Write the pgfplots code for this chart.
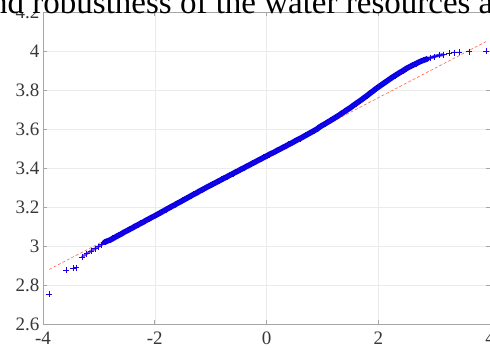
\documentclass[border=0pt]{standalone}
\usepackage{pgfplots}
\usepackage{pgfplotstable}
\pgfplotsset{compat=1.18}
\usepackage{fontspec}
\setmainfont{Liberation Serif}
\pgfplotstableread{
x y
-3.89 2.754
-3.59 2.877
-3.46 2.887
-3.41 2.889
-3.30 2.944
-3.22 2.961
-3.14 2.975
-3.07 2.986
-3.01 2.997
-2.95 3.007
-2.90 3.019
-2.85 3.026
-2.80 3.031
-2.75 3.039
-2.70 3.047
-2.65 3.055
-2.60 3.062
-2.55 3.071
-2.50 3.078
-2.45 3.086
-2.40 3.093
-2.35 3.102
-2.30 3.109
-2.25 3.117
-2.20 3.124
-2.15 3.133
-2.10 3.140
-2.05 3.148
-2.00 3.155
-1.95 3.163
-1.90 3.171
-1.85 3.179
-1.80 3.187
-1.75 3.195
-1.70 3.203
-1.65 3.210
-1.60 3.219
-1.55 3.226
-1.50 3.234
-1.45 3.242
-1.40 3.250
-1.35 3.258
-1.30 3.266
-1.25 3.273
-1.20 3.282
-1.15 3.289
-1.10 3.297
-1.05 3.305
-1.00 3.312
-0.95 3.320
-0.90 3.327
-0.85 3.335
-0.80 3.342
-0.75 3.350
-0.70 3.357
-0.65 3.365
-0.60 3.372
-0.55 3.380
-0.50 3.387
-0.45 3.395
-0.40 3.402
-0.35 3.410
-0.30 3.417
-0.25 3.425
-0.20 3.432
-0.15 3.440
-0.10 3.447
-0.05 3.455
0.00 3.462
0.05 3.470
0.10 3.477
0.15 3.484
0.20 3.492
0.25 3.499
0.30 3.507
0.35 3.514
0.40 3.522
0.45 3.529
0.50 3.537
0.55 3.545
0.60 3.552
0.65 3.560
0.70 3.568
0.75 3.576
0.80 3.584
0.85 3.592
0.90 3.600
0.95 3.611
1.00 3.620
1.05 3.628
1.10 3.637
1.15 3.645
1.20 3.654
1.25 3.663
1.30 3.672
1.35 3.682
1.40 3.691
1.45 3.701
1.50 3.710
1.55 3.721
1.60 3.731
1.65 3.741
1.70 3.751
1.75 3.762
1.80 3.772
1.85 3.784
1.90 3.794
1.95 3.806
2.00 3.816
2.05 3.826
2.10 3.836
2.15 3.846
2.20 3.856
2.25 3.866
2.30 3.875
2.35 3.884
2.40 3.893
2.45 3.901
2.50 3.911
2.56 3.920
2.62 3.929
2.68 3.937
2.74 3.946
2.80 3.953
2.87 3.960
2.94 3.967
3.01 3.973
3.09 3.980
3.17 3.982
3.27 3.990
3.36 3.993
3.45 3.994
3.63 3.997
3.93 4.000
}\qqdata
\begin{document}
\begin{tikzpicture}
\clip (0pt,0pt) rectangle (490pt,349pt);
\fill[white] (0pt,0pt) rectangle (490pt,349pt);
\begin{axis}[
  at={(43pt,25pt)}, anchor=south west,
  scale only axis, width=447pt, height=311.7pt,
  xmin=-4, xmax=4, ymin=2.6, ymax=4.2,
  xtick={-4,-2,0,2,4}, xticklabels={-4,-2,0,2,4},
  ytick={2.6,2.8,3,3.2,3.4,3.6,3.8,4,4.2},
  yticklabels={2.6,2.8,3,3.2,3.4,3.6,3.8,4,4.2},
  grid=major, major grid style={black!8, line width=0.5pt},
  axis line style={black!35, line width=0.7pt},
  tick style={black!35, line width=0.6pt}, tick align=inside,
  major tick length=4pt,
  ticklabel style={font=\fontsize{19}{19}\selectfont, text=black!78},
  xticklabel style={yshift=-4pt},
  clip=true,
]
\addplot[red!70!orange, line width=0.6pt, dash pattern=on 3pt off 2pt, opacity=0.7] coordinates {(-3.89,2.880) (3.93,4.050)};
\addplot[blue!55!violet!70, line width=2.6pt, restrict x to domain=-3.32:-2.85, line cap=round] table[x=x,y=y] {\qqdata};
\addplot[blue!80, line width=3pt, restrict x to domain=2.85:3.2, line cap=round] table[x=x,y=y] {\qqdata};
\addplot[blue!90!black, line width=5.5pt, restrict x to domain=-2.92:2.9, line cap=round, line join=round] table[x=x,y=y] {\qqdata};
\addplot[only marks, mark=+, color=blue!80!violet, mark size=3pt, line width=0.8pt] table[x=x,y=y] {\qqdata};
\end{axis}
\fill[white] (0pt,337.2pt) rectangle (490pt,349pt);
\node[anchor=base west, inner sep=0pt, font=\fontsize{33}{33}\selectfont] at (-9pt,335.8pt) {nd robustness of the water resources and};
\end{tikzpicture}
\end{document}
